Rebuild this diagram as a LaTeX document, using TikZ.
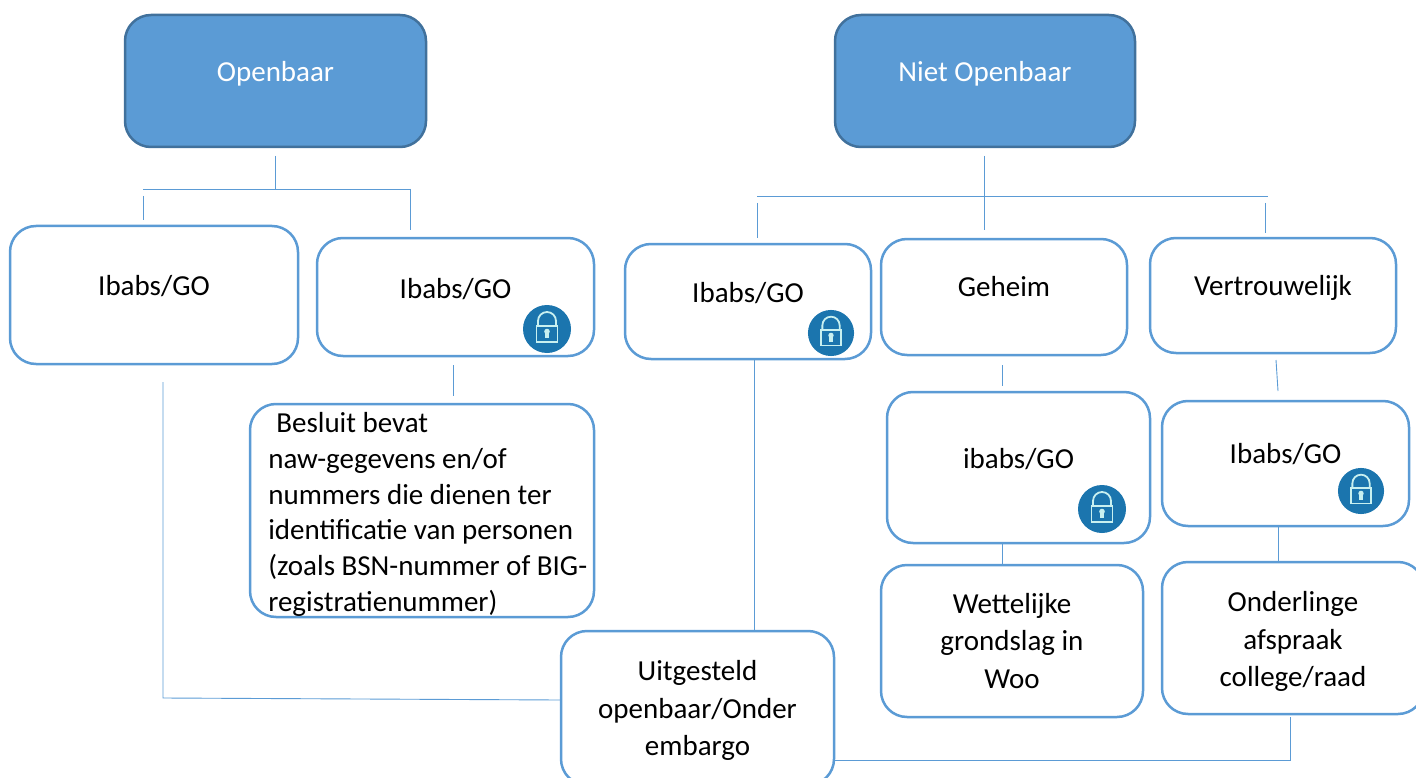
\documentclass[tikz,border=0pt]{standalone}
\usepackage{fontspec}
\setmainfont{Carlito}
\definecolor{boxblue}{HTML}{5B9BD5}
\definecolor{darkblue}{HTML}{41719C}
\definecolor{lockblue}{HTML}{1B75AE}
\definecolor{locklight}{HTML}{C8F0F0}
\tikzset{
  headbox/.style={draw=darkblue,fill=boxblue,line width=2.5pt,rounded corners=26pt,text=white,inner sep=0pt,font=\fontsize{29}{36}\selectfont,align=center},
  whitebox/.style={draw=boxblue,fill=white,line width=2.5pt,rounded corners=26pt,inner sep=0pt,font=\fontsize{29}{37.7}\selectfont,align=center},
  lift/.style={text depth=#1},
  link/.style={draw=boxblue,line width=.9pt},
  pics/lockicon/.style={code={
    \fill[lockblue] (0,0) circle[radius=24];
    \draw[locklight,line width=1.8pt] (-9,-3) -- (-9,-8) arc[start angle=180,end angle=360,radius=9] -- (9,-3);
    \draw[locklight,line width=1.8pt] (-10.5,-3) rectangle (10.5,13);
    \fill[locklight] (0,2.5) circle[radius=2.8];
    \fill[locklight] (-1.6,3) rectangle (1.6,9);
  }}
}
\begin{document}
\begin{tikzpicture}[x=1pt,y=-1pt]
  \useasboundingbox (0,0) rectangle (1416,778);

  % top row
  \node[headbox,minimum width=301pt,minimum height=132pt,lift=20pt] (openbaar) at (275.5,81) {Openbaar};
  \node[headbox,minimum width=300pt,minimum height=132pt,lift=20pt] (nietopen) at (985,81) {Niet Openbaar};

  % second row
  \node[whitebox,minimum width=288pt,minimum height=138pt,lift=20pt] (ibabsA) at (154,295) {Ibabs/GO};
  \node[whitebox,minimum width=277pt,minimum height=118pt,lift=18pt] (ibabsB) at (455.5,297) {Ibabs/GO};
  \node[whitebox,minimum width=246pt,minimum height=115pt,lift=18pt] (ibabsC) at (748,301.5) {Ibabs/GO};
  \node[whitebox,minimum width=246pt,minimum height=116pt,lift=21pt] (geheim) at (1004,297) {Geheim};
  \node[whitebox,minimum width=246pt,minimum height=115pt,lift=20pt] (vertrouw) at (1273,295.5) {Vertrouwelijk};

  % third row
  \node[whitebox,minimum width=344pt,minimum height=213pt,font=\fontsize{29}{35.7}\selectfont] (besluit) at (422,510.5)
    {\hspace{11.5pt}\smash{\raisebox{-10.5pt}{\begin{tabular}{@{}l@{}}\hspace*{8pt}Besluit bevat\\naw-gegevens en/of\\nummers die dienen ter\\identificatie van personen\\(zoals BSN-nummer of BIG-\\registratienummer)\end{tabular}}}};
  \node[whitebox,minimum width=263pt,minimum height=151pt,lift=18pt] (ibabsD) at (1018.5,467.5) {ibabs/GO};
  \node[whitebox,minimum width=247pt,minimum height=125pt,lift=20pt] (ibabsE) at (1285.5,463.5) {Ibabs/GO};

  % bottom row
  \node[whitebox,minimum width=262pt,minimum height=152pt] (wettelijk) at (1012,641) {Wettelijke\\grondslag in\\Woo};
  \node[whitebox,minimum width=262pt,minimum height=152pt] (onderling) at (1293,638) {\rule{0pt}{27pt}Onderlinge\\afspraak\\college/raad};
  \node[whitebox,minimum width=273pt,minimum height=154pt] (uitgesteld) at (697.5,708) {\rule{0pt}{25pt}Uitgesteld\\openbaar/Onder\\embargo};

  % locks
  \pic at (547,329) {lockicon};
  \pic[scale=.96] at (831,333) {lockicon};
  \pic at (1102,509) {lockicon};
  \pic[scale=.96] at (1361,491) {lockicon};

  % connector ends
  \coordinate (openDown) at (275,156);
  \coordinate (openMid) at (275,189);
  \coordinate (openLeft) at (143,189);
  \coordinate (openRight) at (411,189);
  \coordinate (ibabsAup) at (143,196);
  \coordinate (ibabsAtop) at (143,220);
  \coordinate (ibabsBup) at (410,189);
  \coordinate (ibabsBtop) at (410,230);
  \coordinate (nietDown) at (984,156);
  \coordinate (nietEnd) at (984,230);
  \coordinate (nietLeft) at (757,196);
  \coordinate (nietRight) at (1268,196);
  \coordinate (ibabsCup) at (757,203);
  \coordinate (ibabsCtop) at (757,238);
  \coordinate (vertUp) at (1265,203);
  \coordinate (vertTop) at (1265,233);
  \coordinate (besluitUp) at (453,365);
  \coordinate (besluitTop) at (453,396);
  \coordinate (geheimDown) at (1002,365);
  \coordinate (geheimEnd) at (1002,386);
  \coordinate (vertDown) at (1276,360);
  \coordinate (vertEnd) at (1278,391);
  \coordinate (ibabsAdown) at (163,382);
  \coordinate (ibabsAcorner) at (163,698);
  \coordinate (onderCorner) at (1290,760);
  \coordinate (onderDown) at (1290,717);

  % connectors
  \draw[link] (openDown) -- (openMid);
  \draw[link] (openLeft) -- (openRight);
  \draw[link] (ibabsAup) -- (ibabsAtop);
  \draw[link] (ibabsBup) -- (ibabsBtop);
  \draw[link] (nietDown) -- (nietEnd);
  \draw[link] (nietLeft) -- (nietRight);
  \draw[link] (ibabsCup) -- (ibabsCtop);
  \draw[link] (vertUp) -- (vertTop);
  \draw[link] (besluitUp) -- (besluitTop);
  \draw[link] (geheimDown) -- (geheimEnd);
  \draw[link] (vertDown) -- (vertEnd);
  \draw[link] (ibabsD.south -| geheimEnd) -- (wettelijk.north -| geheimEnd);
  \draw[link] (ibabsE.south -| vertEnd) -- (onderling.north -| vertEnd);
  \draw[link] (ibabsC.south -| 754,0) -- (uitgesteld.north -| 754,0);
  \draw[link] (ibabsAdown) -- (ibabsAcorner) -- (uitgesteld.west |- 0,700);
  \draw[link] (uitgesteld.east |- onderCorner) -- (onderCorner) -- (onderDown);
\end{tikzpicture}
\end{document}
